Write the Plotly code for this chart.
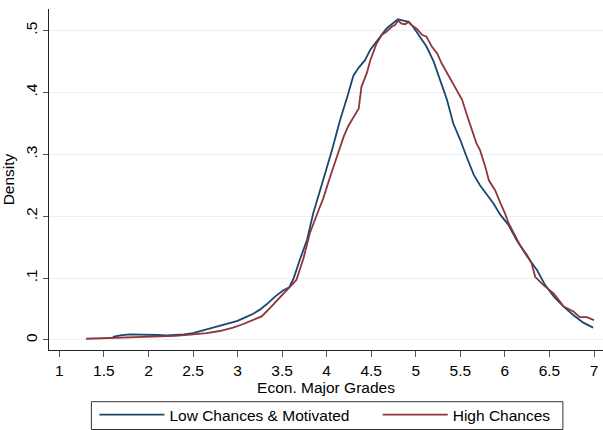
import plotly.graph_objects as go

low_x = [1.60,1.70,1.80,1.90,2.00,2.10,2.20,2.30,2.40,2.50,2.60,2.70,2.80,2.90,3.00,3.08,3.17,3.25,3.33,3.42,3.51,3.58,3.63,3.70,3.78,3.85,3.91,3.96,4.06,4.15,4.23,4.30,4.36,4.43,4.49,4.54,4.60,4.67,4.73,4.80,4.86,4.92,4.97,5.05,5.12,5.20,5.27,5.35,5.42,5.50,5.57,5.65,5.72,5.80,5.87,5.95,6.04,6.13,6.25,6.36,6.45,6.55,6.66,6.77,6.88,6.99]
low_y = [0.005,0.008,0.009,0.009,0.0085,0.008,0.0075,0.008,0.009,0.011,0.015,0.019,0.024,0.027,0.031,0.036,0.042,0.049,0.058,0.070,0.080,0.085,0.100,0.130,0.162,0.205,0.232,0.258,0.307,0.355,0.392,0.427,0.440,0.452,0.469,0.479,0.491,0.503,0.510,0.518,0.516,0.514,0.506,0.490,0.474,0.450,0.422,0.388,0.350,0.323,0.296,0.267,0.250,0.234,0.221,0.202,0.186,0.162,0.135,0.113,0.089,0.070,0.054,0.040,0.028,0.020]

high_x = [1.30,1.50,1.70,1.90,2.10,2.30,2.50,2.65,2.80,2.95,3.05,3.14,3.20,3.27,3.36,3.48,3.58,3.66,3.74,3.81,3.91,3.96,4.04,4.13,4.19,4.24,4.32,4.36,4.39,4.45,4.49,4.56,4.62,4.67,4.73,4.77,4.80,4.84,4.88,4.92,4.95,5.01,5.07,5.12,5.18,5.24,5.29,5.35,5.40,5.46,5.52,5.57,5.63,5.68,5.72,5.78,5.82,5.89,5.95,6.00,6.04,6.10,6.17,6.25,6.30,6.34,6.43,6.55,6.66,6.77,6.84,6.92,7.00]
high_y = [0.002,0.003,0.0035,0.004,0.005,0.0065,0.009,0.011,0.0145,0.020,0.025,0.030,0.034,0.038,0.051,0.070,0.085,0.097,0.132,0.172,0.210,0.228,0.264,0.302,0.328,0.345,0.366,0.374,0.409,0.431,0.452,0.479,0.493,0.498,0.506,0.509,0.516,0.511,0.510,0.514,0.509,0.503,0.493,0.490,0.474,0.463,0.447,0.431,0.420,0.404,0.388,0.365,0.339,0.318,0.307,0.280,0.258,0.242,0.221,0.205,0.189,0.172,0.153,0.137,0.124,0.102,0.089,0.075,0.054,0.046,0.037,0.037,0.032]

x_ticks = [1, 1.5, 2, 2.5, 3, 3.5, 4, 4.5, 5, 5.5, 6, 6.5, 7]
x_labels = ["1", "1.5", "2", "2.5", "3", "3.5", "4", "4.5", "5", "5.5", "6", "6.5", "7"]
y_ticks = [0, 0.1, 0.2, 0.3, 0.4, 0.5]
y_labels = ["0", ".1", ".2", ".3", ".4", ".5"]

FONT = "Liberation Sans, Arial, sans-serif"
FS = 15.5

fig = go.Figure()
fig.add_trace(go.Scatter(x=low_x, y=low_y, mode="lines", name="Low Chances & Motivated",
                         line=dict(color="#1a476f", width=1.8), legend="legend"))
fig.add_trace(go.Scatter(x=high_x, y=high_y, mode="lines", name="High Chances",
                         line=dict(color="#90353b", width=1.8), legend="legend2"))

leg_common = dict(orientation="h", xref="container", yref="container", xanchor="left",
                  yanchor="middle", y=1 - 415 / 430, bgcolor="rgba(0,0,0,0)", borderwidth=0,
                  itemwidth=65, font=dict(size=FS))

fig.update_layout(
    width=603, height=430,
    margin=dict(l=49, r=0, t=9, b=80, autoexpand=False),
    paper_bgcolor="white", plot_bgcolor="white",
    font=dict(family=FONT, size=FS, color="#000000"),
    xaxis=dict(range=[0.884, 7.101], tickmode="array", tickvals=x_ticks, ticktext=x_labels,
               showgrid=False, zeroline=False, showline=True, linecolor="#222222", linewidth=1.2,
               ticks="outside", ticklen=6, tickcolor="#555555", tickwidth=1.2, automargin=False,
               title=dict(text="Econ. Major Grades", standoff=4, font=dict(size=FS))),
    yaxis=dict(range=[-0.0162, 0.5347], tickmode="array", tickvals=y_ticks, ticktext=y_labels,
               tickangle=-90, showgrid=True, gridcolor="#e8f0f3", gridwidth=1.2, zeroline=False,
               showline=True, linecolor="#222222", linewidth=1.2, automargin=False,
               ticks="outside", ticklen=5, tickcolor="#555555", tickwidth=1.2,
               title=dict(text="Density", standoff=7, font=dict(size=FS))),
    legend=dict(x=(91.4 + 3) / 603, **leg_common),
    legend2=dict(x=(382.7 - 5) / 603, **leg_common),
    showlegend=True,
)

# legend frame
fig.add_shape(type="rect", xref="paper", yref="paper",
              x0=(91.4 - 49) / 554, x1=(562.9 - 49) / 554,
              y0=(350 - 429.5) / 341, y1=(350 - 401.7) / 341,
              line=dict(color="#333333", width=1), fillcolor="rgba(0,0,0,0)", layer="above")

fig.write_html("out.html", config={"displayModeBar": False},
               post_script="document.body.style.margin='0';document.body.style.overflow='hidden';")
